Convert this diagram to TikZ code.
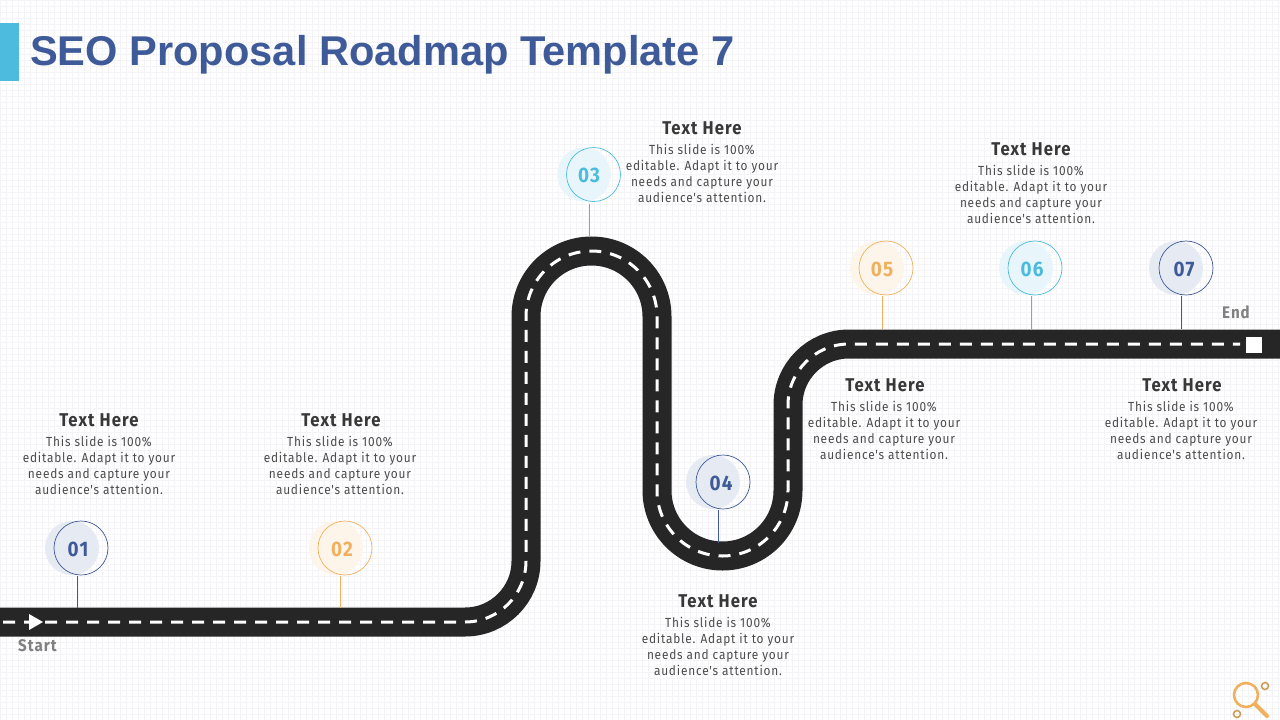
\documentclass[tikz,border=0pt]{standalone}
\usepackage{fontspec}
\setmainfont{Liberation Sans}
\newfontfamily\bodyfont[LetterSpace=6,FakeStretch=0.9]{Fira Sans}
\newfontfamily\headfont[LetterSpace=6,FakeStretch=0.9]{Fira Sans}
\definecolor{navy}{HTML}{3F5A98}
\definecolor{sky}{HTML}{4CBBDD}
\definecolor{amber}{HTML}{F0B060}
\definecolor{road}{HTML}{262626}
\definecolor{gridc}{HTML}{F4F4F6}
\tikzset{
  x=1pt,y=-1pt,
  ring/.style={circle,draw=#1,line width=0.7pt,minimum size=54pt,inner sep=0pt},
  halo/.style={circle,fill=#1!13,minimum size=54pt,inner sep=0pt},
  num/.style={font=\headfont\bfseries\fontsize{21}{21}\selectfont,text=#1,inner sep=0pt},
  stem/.style={draw=#1,line width=1pt},
  heading/.style={font=\headfont\bfseries\fontsize{18.5}{19}\selectfont,text=black!78,inner sep=0pt},
  body/.style={font=\bodyfont\fontsize{13.2}{16}\selectfont,text=black!70,align=center,inner sep=0pt,anchor=north},
  tag/.style={font=\headfont\bfseries\fontsize{16.8}{18}\selectfont,text=black!50,inner sep=0pt},
}
\newcommand{\bodytext}{This slide is 100\%\\editable. Adapt it to your\\needs and capture your\\audience's attention.}
\begin{document}
\begin{tikzpicture}
\useasboundingbox (0,0) rectangle (1280,720);
\fill[white] (0,0) rectangle (1280,720);
% background mesh
\foreach \i in {0,...,213} {\draw[gridc,line width=0.4pt] (\i*6,0) -- (\i*6,720);}
\foreach \j in {0,...,120} {\draw[gridc,line width=0.4pt] (0,\j*6) -- (1280,\j*6);}
% title
\fill[sky] (0,23) rectangle (19,81);
\node[anchor=base west,inner sep=0pt,font=\bfseries\fontsize{41.6}{44}\selectfont,text=navy] (title) at (30,65) {SEO Proposal Roadmap Template 7};
% road
\draw[road,line width=29pt] (-5,622) -- (465,622) arc[start angle=270,end angle=360,x radius=61,y radius=-61] -- (526,316.5) arc[start angle=180,end angle=0,x radius=65.5,y radius=-65.5] -- (657,490.5) arc[start angle=180,end angle=360,x radius=65.5,y radius=-65.5] -- (788,405) arc[start angle=180,end angle=90,x radius=61,y radius=-61] -- (1285,344);
\draw[white,line width=3pt,dash pattern=on 12pt off 9pt] (3,622) -- (465,622) arc[start angle=270,end angle=360,x radius=61,y radius=-61] -- (526,316.5) arc[start angle=180,end angle=0,x radius=65.5,y radius=-65.5] -- (657,490.5) arc[start angle=180,end angle=360,x radius=65.5,y radius=-65.5] -- (788,405) arc[start angle=180,end angle=90,x radius=61,y radius=-61] -- (1240,344);
\fill[white] (29,614) -- (43,622) -- (29,630) -- cycle;
\fill[white] (1246,337) rectangle (1262,353);
\node[tag] (start) at (37.5,646) {Start};
\node[tag] (end) at (1236,312) {End};
% markers
\foreach \n/\cx/\cy/\hx/\lx/\ta/\tb/\c/\t/\nx in {
 01/81/548/72/77.5/576/608/navy/01/78,
 02/345/548/336/340.5/576/608/amber/02/342,
 03/593.5/174.5/584/589.5/204/236/sky/03/589,
 04/723/482/713/718.5/510/543/navy/04/721,
 05/886/268/877/882.5/296/329/amber/05/882,
 06/1035/268/1026/1031.5/296/329/sky/06/1032,
 07/1186/268/1176/1181.5/296/329/navy/07/1184}{
  \node[halo=\c] (h\n) at (\hx,\cy) {};
  \node[ring=\c] (r\n) at (\cx,\cy) {};
  \node[num=\c] (t\n) at (\nx,\cy+1) {\t};
  \coordinate (sa\n) at (\lx,\ta);
  \coordinate (sb\n) at (\lx,\tb);
  \draw[stem=\c] (sa\n) -- (sb\n);
}
% text blocks
\foreach \n/\hx/\hy/\bx/\by in {
 1/99/420/99/436,
 2/341/420/340/436,
 3/702/128/702/144,
 4/718/601/718/617,
 5/885/385/884/401,
 6/1031/149/1031/165,
 7/1182/385/1181/401}{
  \node[heading] (head\n) at (\hx,\hy) {Text Here};
  \node[body] (body\n) at (\bx,\by) {\bodytext};
}
% magnifier icon
\draw[amber,line width=2.6pt] (1246,695) circle[radius=12];
\draw[amber,line width=4pt,line cap=round] (1255,704) -- (1267,716);
\draw[amber!85!black,line width=1.6pt,dash pattern=on 1.2pt off 0.4pt] (1265,686) circle[radius=3.5];
\draw[amber!85!black,line width=1.6pt,dash pattern=on 1.2pt off 0.4pt] (1237,714) circle[radius=3.5];
\end{tikzpicture}
\end{document}
